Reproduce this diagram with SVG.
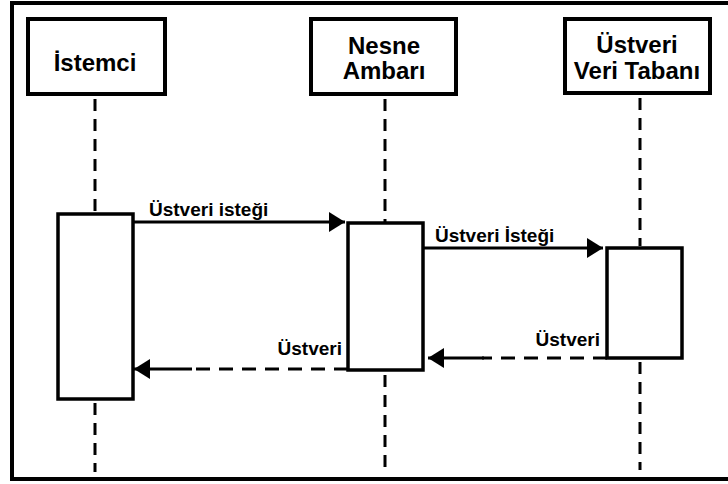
<svg xmlns="http://www.w3.org/2000/svg" width="728" height="484" viewBox="0 0 728 484">
  <style>
    .box { fill: #fff; stroke: #000; stroke-width: 4; }
    .act { fill: #fff; stroke: #000; stroke-width: 3.5; }
    .life { stroke: #000; stroke-width: 3; stroke-dasharray: 12 8; fill: none; }
    .msg { stroke: #000; stroke-width: 3; fill: none; }
    .ret { stroke: #000; stroke-width: 3; fill: none; stroke-dasharray: 14 9; }
    .name { font-family: "Liberation Sans", Arial, sans-serif; font-weight: bold; font-size: 24px; fill: #000; text-anchor: middle; }
    .lbl { font-family: "Liberation Sans", Arial, sans-serif; font-weight: bold; font-size: 19px; fill: #000; }
  </style>
  <defs>
    <marker id="head" viewBox="0 0 16 20" refX="16" refY="10" markerWidth="16" markerHeight="20" markerUnits="userSpaceOnUse" orient="auto">
      <path d="M0,0 L16,10 L0,20 Z" fill="#000"/>
    </marker>
  </defs>

  <rect width="728" height="484" fill="#fff"/>

  <!-- outer frame -->
  <rect x="12" y="3" width="740" height="476" fill="none" stroke="#000" stroke-width="4"/>

  <!-- lifelines -->
  <g id="lifelines">
    <line class="life" x1="95" y1="99" x2="95" y2="213"/>
    <line class="life" x1="95" y1="403" x2="95" y2="472"/>
    <line class="life" x1="385" y1="99" x2="385" y2="222"/>
    <line class="life" x1="385" y1="375" x2="385" y2="470"/>
    <line class="life" x1="640" y1="98" x2="640" y2="246"/>
    <line class="life" x1="640" y1="362" x2="640" y2="470"/>
  </g>

  <!-- participants -->
  <g id="istemci">
    <rect class="box" x="28" y="19" width="137" height="75"/>
    <text class="name" x="95" y="71">İstemci</text>
    <rect class="act" x="58" y="214" width="75" height="185"/>
  </g>
  <g id="nesne-ambari">
    <rect class="box" x="311" y="19" width="145" height="75"/>
    <text class="name" x="384" y="54">Nesne</text>
    <text class="name" x="384" y="79">Ambarı</text>
    <rect class="act" x="348" y="223" width="75" height="147"/>
  </g>
  <g id="ustveri-veri-tabani">
    <rect class="box" x="565" y="19" width="145" height="74"/>
    <text class="name" x="637" y="53">Üstveri</text>
    <text class="name" x="637" y="79">Veri Tabanı</text>
    <rect class="act" x="607" y="248" width="75" height="110"/>
  </g>

  <!-- messages -->
  <g id="connectors">
    <line class="msg" x1="133" y1="222" x2="345" y2="222" marker-end="url(#head)"/>
    <text class="lbl" x="149" y="216">Üstveri isteği</text>

    <line class="msg" x1="423" y1="248" x2="603" y2="248" marker-end="url(#head)"/>
    <text class="lbl" x="435" y="242">Üstveri İsteği</text>

    <line class="ret" x1="348" y1="369" x2="190" y2="369"/>
    <line class="msg" x1="192" y1="369" x2="134" y2="369" marker-end="url(#head)"/>
    <text class="lbl" x="342" y="355" text-anchor="end">Üstveri</text>

    <line class="ret" x1="607" y1="358" x2="482" y2="358"/>
    <line class="msg" x1="484" y1="358" x2="428" y2="358" marker-end="url(#head)"/>
    <text class="lbl" x="600" y="346" text-anchor="end">Üstveri</text>
  </g>
</svg>
